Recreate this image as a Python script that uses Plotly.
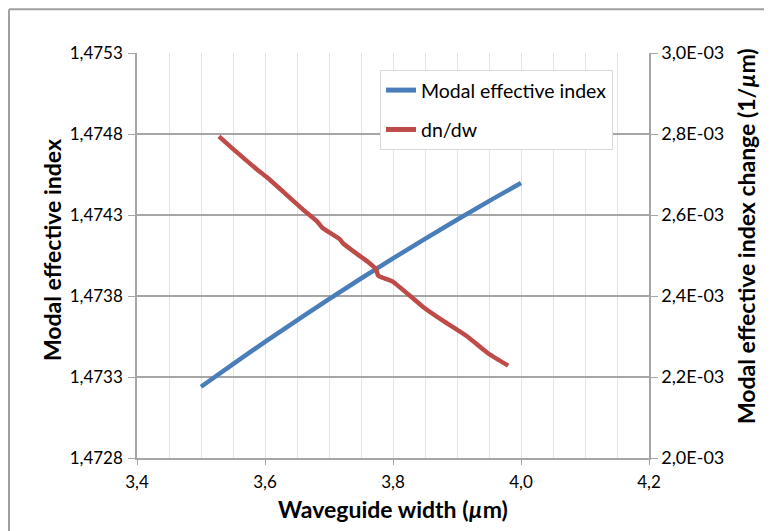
import plotly.graph_objects as go

# Modal effective index vs waveguide width
width_n = [3.50, 3.55, 3.60, 3.65, 3.70, 3.75, 3.80, 3.85, 3.90, 3.95, 4.00]
n_eff = [1.473240, 1.473380, 1.473517, 1.473650, 1.473781, 1.473908,
         1.474032, 1.474153, 1.474271, 1.474386, 1.474497]

# dn/dw (1/um)
width_d = [3.528, 3.545, 3.587, 3.603, 3.659, 3.681, 3.690, 3.717, 3.722, 3.748,
           3.761, 3.773, 3.777, 3.784, 3.800, 3.847, 3.878, 3.916, 3.949, 3.980]
dndw = [2.794e-3, 2.770e-3, 2.713e-3, 2.693e-3, 2.614e-3, 2.585e-3, 2.568e-3, 2.540e-3,
        2.530e-3, 2.499e-3, 2.484e-3, 2.467e-3, 2.450e-3, 2.445e-3, 2.435e-3, 2.373e-3,
        2.339e-3, 2.300e-3, 2.258e-3, 2.228e-3]

x_ticks = [3.4, 3.6, 3.8, 4.0, 4.2]
x_labels = ["3,4", "3,6", "3,8", "4,0", "4,2"]
y1_ticks = [1.4728, 1.4733, 1.4738, 1.4743, 1.4748, 1.4753]
y1_labels = ["1,4728", "1,4733", "1,4738", "1,4743", "1,4748", "1,4753"]
y2_ticks = [2.0e-3, 2.2e-3, 2.4e-3, 2.6e-3, 2.8e-3, 3.0e-3]
y2_labels = ["2,0E-03", "2,2E-03", "2,4E-03", "2,6E-03", "2,8E-03", "3,0E-03"]

FONT = "Lato, 'Open Sans', sans-serif"
AX = "#a6a6a6"

# page has an 8px body margin: figure starts at page (8, 8)
W, H = 764, 523
PL, PR, PT, PB = 137, 649, 53, 460  # plot area in page coordinates
ml, mt = PL - 8, PT - 8
mr, mb = W + 8 - PR, H + 8 - PB
pw, ph = PR - PL, PB - PT

fig = go.Figure()
fig.add_trace(go.Scatter(x=width_n, y=n_eff, mode="lines", name="Modal effective index",
                         legendgroup="a",
                         line=dict(color="#4a7ebb", width=4.5, shape="spline")))
fig.add_trace(go.Scatter(x=width_d, y=dndw, mode="lines", name="dn/dw", yaxis="y2",
                         legendgroup="b",
                         line=dict(color="#be4b48", width=4.5, shape="spline", smoothing=0.5)))

fig.update_layout(
    width=W, height=H,
    margin=dict(l=ml, r=mr, t=mt, b=mb),
    paper_bgcolor="white", plot_bgcolor="white",
    font=dict(family=FONT, size=17, color="#000000"),
    showlegend=True,
    legend=dict(x=(380 - PL) / pw, y=1 - (70 - PT) / ph, xanchor="left", yanchor="top",
                bgcolor="white", bordercolor="#d9d9d9", borderwidth=1,
                font=dict(size=19.5, family=FONT), tracegroupgap=11,
                traceorder="grouped",
                itemwidth=30, itemsizing="constant"),
    xaxis=dict(range=[3.4, 4.2], tickvals=x_ticks, ticktext=x_labels,
               showgrid=True, gridcolor="#e3e3e3", gridwidth=1,
               minor=dict(dtick=0.05, tick0=3.4, showgrid=True, gridcolor="#e3e3e3", gridwidth=1, ticks=""),
               showline=True, linecolor=AX, linewidth=1.5, mirror=False,
               ticks="outside", ticklen=5, tickcolor=AX, zeroline=False,
               ticklabelstandoff=3,
               tickfont=dict(size=17),
               title=dict(text="<b>Waveguide width (<i>µ</i>m)</b>", font=dict(size=23), standoff=11)),
    yaxis=dict(range=[1.4728, 1.4753], tickvals=y1_ticks, ticktext=y1_labels,
               showgrid=True, gridcolor=AX, gridwidth=1.5,
               showline=True, linecolor=AX, linewidth=1.5,
               ticks="outside", ticklen=7, tickcolor=AX, zeroline=False,
               ticklabelstandoff=2,
               tickfont=dict(size=17)),
    yaxis2=dict(range=[2.0e-3, 3.0e-3], tickvals=y2_ticks, ticktext=y2_labels,
                overlaying="y", side="right", showgrid=False,
                showline=True, linecolor=AX, linewidth=1.5,
                ticks="outside", ticklen=7, tickcolor=AX, zeroline=False,
                tickfont=dict(size=18)),
)

# axis titles for the two y axes, placed as in the original
fig.add_annotation(text="<b>Modal effective index</b>",
                   xref="paper", yref="paper", x=(52 - PL) / pw, y=1 - (251 - PT) / ph,
                   xanchor="center", yanchor="middle", textangle=-90, showarrow=False,
                   font=dict(size=23, family=FONT))
fig.add_annotation(text="<b>Modal effective index change (1/<i>µ</i>m)</b>",
                   xref="paper", yref="paper", x=(746 - PL) / pw, y=1 - (237 - PT) / ph,
                   xanchor="center", yanchor="middle", textangle=-90, showarrow=False,
                   font=dict(size=23, family=FONT))

# outer chart border (top and left visible)
bx = -(PL - 9) / pw
by = 1 + (PT - 9) / ph
fig.add_shape(type="line", xref="paper", yref="paper", x0=bx, x1=1.5, y0=by, y1=by,
              line=dict(color="#a0a0a0", width=2), layer="above")
fig.add_shape(type="line", xref="paper", yref="paper", x0=bx, x1=bx, y0=-0.5, y1=by,
              line=dict(color="#a0a0a0", width=2), layer="above")

fig.write_html("out.html")
